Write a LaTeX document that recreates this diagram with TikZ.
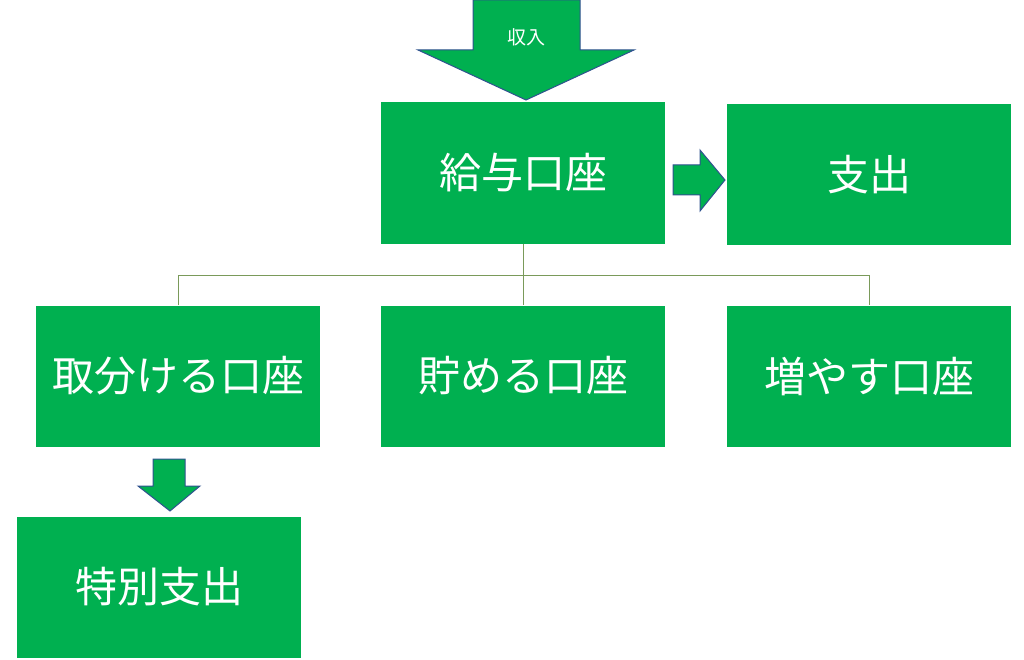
\documentclass[tikz,border=0pt]{standalone}
\usepackage{fontspec}
\setmainfont{Noto Sans CJK JP}
\begin{document}
\begin{tikzpicture}[x=1pt,y=-1pt,
 box/.style={fill=boxg,draw=none,minimum width=284pt,minimum height=141pt,text=white,font=\fontsize{42}{46}\selectfont,inner sep=0pt},
 arr/.style={fill=boxg,draw=arrb,line width=1pt,line join=miter},
 tree/.style={draw=treeg,line width=1pt}]
\definecolor{boxg}{HTML}{00B050}
\definecolor{arrb}{HTML}{2F528F}
\definecolor{treeg}{HTML}{7A9A5A}
\useasboundingbox (0,0) rectangle (1024,660);
\node[box] (kyuyo) at (523,173) {給与口座};
\node[box] (shishutsu) at (869,174.5) {支出};
\node[box] (toriwake) at (178,376) {取分ける口座};
\node[box] (tameru) at (523,376) {貯める口座};
\node[box] (fuyasu) at (869,376) {増やす口座};
\node[box] (tokubetsu) at (159,587) {特別支出};
% top arrow
\draw[arr] (473,0) -- (580,0) -- (580,50) -- (634,50) -- (526,100) -- (418,50) -- (473,50) -- cycle;
\node[text=white,font=\fontsize{19}{22}\selectfont] (shunyu) at (526,37) {収入};
% right arrow
\draw[arr] (673,165) -- (700,165) -- (700,150) -- (725,180) -- (700,211) -- (700,195) -- (673,195) -- cycle;
% down arrow
\draw[arr] (153,459) -- (185,459) -- (185,486) -- (200,486) -- (170,511) -- (138,486) -- (153,486) -- cycle;
% tree
\coordinate (j) at (523,275);
\draw[tree] (kyuyo.south) -- (j);
\draw[tree] (toriwake.north) |- (fuyasu.north |- j) -- (fuyasu.north);
\draw[tree] (j) -- (tameru.north);
\end{tikzpicture}
\end{document}
